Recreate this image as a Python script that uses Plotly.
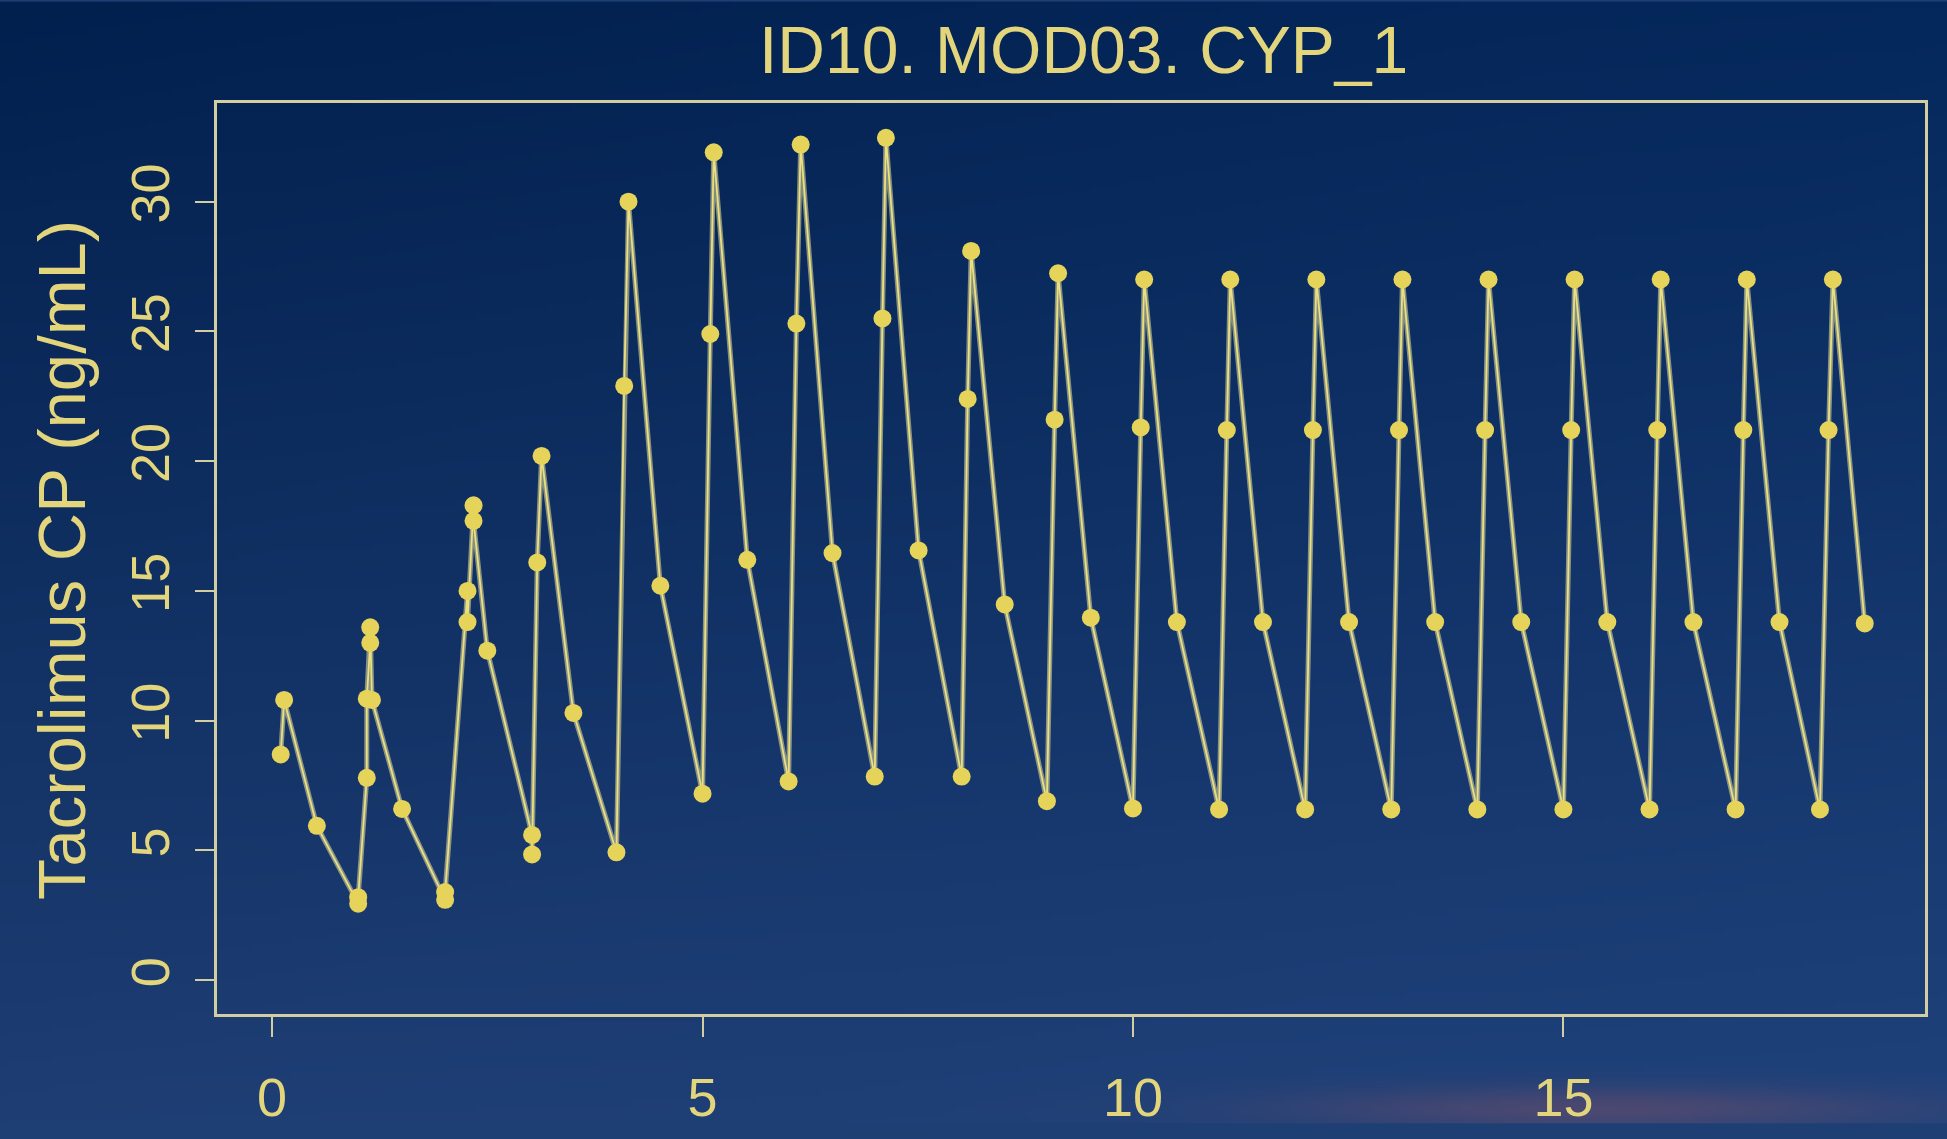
import base64, struct, zlib
import numpy as np
import plotly.graph_objects as go

# ---------------- data ----------------
time_days = [
    0.10, 0.14, 0.52,
    1.00, 1.00, 1.10, 1.10, 1.14, 1.14, 1.16, 1.51,
    2.01, 2.01, 2.27, 2.27, 2.34, 2.34, 2.50,
    3.02, 3.02, 3.08, 3.13, 3.50,
    4.00, 4.09, 4.14, 4.51,
    5.00, 5.09, 5.13, 5.52,
    6.00, 6.09, 6.14, 6.51,
    7.00, 7.09, 7.13, 7.51,
    8.01, 8.08, 8.12, 8.51,
    9.00, 9.09, 9.13, 9.51,
    10.00, 10.09, 10.13, 10.51,
    11.00, 11.09, 11.13, 11.51,
    12.00, 12.09, 12.13, 12.51,
    13.00, 13.09, 13.13, 13.51,
    14.00, 14.09, 14.13, 14.51,
    15.00, 15.09, 15.13, 15.51,
    16.00, 16.09, 16.13, 16.51,
    17.00, 17.09, 17.13, 17.51,
    17.98, 18.08, 18.13, 18.50,
]
tacrolimus_cp = [
    8.7, 10.8, 5.95,
    2.95, 3.2, 7.8, 10.85, 13.0, 13.6, 10.8, 6.6,
    3.1, 3.4, 15.0, 13.8, 18.3, 17.7, 12.7,
    5.6, 4.85, 16.1, 20.2, 10.3,
    4.93, 22.9, 30.0, 15.2,
    7.19, 24.9, 31.9, 16.2,
    7.66, 25.3, 32.2, 16.46,
    7.85, 25.5, 32.46, 16.56,
    7.85, 22.4, 28.1, 14.48,
    6.9, 21.6, 27.24, 13.97,
    6.62, 21.3, 27.0, 13.8,
    6.58, 21.2, 27.0, 13.8,
    6.58, 21.2, 27.0, 13.8,
    6.58, 21.2, 27.0, 13.8,
    6.58, 21.2, 27.0, 13.8,
    6.58, 21.2, 27.0, 13.8,
    6.58, 21.2, 27.0, 13.8,
    6.58, 21.2, 27.0, 13.8,
    6.58, 21.2, 27.0, 13.75,
]
x_ticks = [0, 5, 10, 15]
y_ticks = [0, 5, 10, 15, 20, 25, 30]
title_text = "ID10. MOD03. CYP_1"
y_title = "Tacrolimus CP (ng/mL)"

# ---------------- styling ----------------
W, H = 1947, 1139
L, R, T, B = 217, 1925, 103, 1028
PW, PH = R - L, B - T
FONT = "Liberation Sans, Arial, sans-serif"
AXIS_COL = "#d3cea2"
TEXT_COL = "#e3d57c"
MARK_COL = "#e6d35a"
BOTTOM_BG = "#1e3f74"


def gradient_png(w, h):
    yy, xx = np.mgrid[0:h, 0:w]
    fy = yy / (h - 1)
    fx = xx / (w - 1)
    top = np.array([2, 32, 78], float)
    bot = np.array([30, 62, 116], float)
    img = top[None, None, :] * (1 - fy[..., None]) + bot[None, None, :] * fy[..., None]
    img += (fx[..., None] * np.array([3, 8, 14]) * (1 - fy[..., None] * 0.5))
    # faint sunset glow at the bottom right
    g = np.exp(-(((xx - 0.82 * w) / (0.16 * w)) ** 2) - (((yy - 0.985 * h) / (0.02 * h)) ** 2))
    img += g[..., None] * np.array([45, 8, -8], float)
    img = np.clip(img, 0, 255).astype(np.uint8)
    raw = b"".join(b"\x00" + img[r].tobytes() for r in range(h))

    def chunk(tag, data):
        c = struct.pack(">I", len(data)) + tag + data
        return c + struct.pack(">I", zlib.crc32(tag + data) & 0xFFFFFFFF)

    png = b"\x89PNG\r\n\x1a\n"
    png += chunk(b"IHDR", struct.pack(">IIBBBBB", w, h, 8, 2, 0, 0, 0))
    png += chunk(b"IDAT", zlib.compress(raw, 9))
    png += chunk(b"IEND", b"")
    return "data:image/png;base64," + base64.b64encode(png).decode()


fig = go.Figure()
fig.add_trace(go.Scatter(
    x=time_days, y=tacrolimus_cp, mode="lines",
    line=dict(color="rgba(214,210,150,0.6)", width=5),
    hoverinfo="skip", showlegend=False,
))
fig.add_trace(go.Scatter(
    x=time_days, y=tacrolimus_cp, mode="lines+markers",
    line=dict(color="#ebdf80", width=1.8),
    marker=dict(color=MARK_COL, size=18, line=dict(width=0)),
    showlegend=False,
))

fig.update_layout(
    width=W, height=H,
    margin=dict(l=L, r=W - R, t=T, b=H - B, pad=0),
    paper_bgcolor=BOTTOM_BG,
    plot_bgcolor="rgba(0,0,0,0)",
    font=dict(family=FONT, color=TEXT_COL),
    images=[dict(
        source=gradient_png(390, 228), xref="paper", yref="paper",
        x=-L / PW, y=1 + T / PH, sizex=W / PW, sizey=H / PH,
        xanchor="left", yanchor="top", sizing="stretch", layer="below",
    )],
    annotations=[
        dict(text=title_text, xref="paper", yref="paper",
             x=(1083 - L) / PW, y=1 + (T - 49) / PH, xanchor="center", yanchor="middle",
             showarrow=False, font=dict(size=66, color=TEXT_COL, family=FONT)),
        dict(text=y_title, xref="paper", yref="paper",
             x=(62 - L) / PW, y=(B - 567) / PH, xanchor="center", yanchor="middle",
             textangle=-90, showarrow=False,
             font=dict(size=67, color=TEXT_COL, family=FONT)),
    ],
)
fig.update_xaxes(
    range=[-0.64, 19.2], tickvals=x_ticks, ticktext=[str(v) for v in x_ticks],
    showgrid=False, zeroline=False, showline=True, mirror=True,
    linecolor=AXIS_COL, linewidth=3, ticks="outside", ticklen=20, tickwidth=2,
    tickcolor=AXIS_COL, tickfont=dict(size=54, color=TEXT_COL, family=FONT),
    ticklabelstandoff=14,
)
fig.update_yaxes(
    range=[-1.3, 33.8], tickvals=y_ticks, ticktext=[str(v) for v in y_ticks],
    showgrid=False, zeroline=False, showline=True, mirror=True,
    linecolor=AXIS_COL, linewidth=3, ticks="outside", ticklen=19, tickwidth=2,
    tickcolor=AXIS_COL, tickangle=-90, tickfont=dict(size=54, color=TEXT_COL, family=FONT),
    ticklabelstandoff=4,
)

fig.write_html(
    "out.html",
    config={"displayModeBar": False},
    post_script="document.body.style.margin='0';document.body.style.background='" + BOTTOM_BG + "';"
                "document.body.style.overflow='hidden';",
)
